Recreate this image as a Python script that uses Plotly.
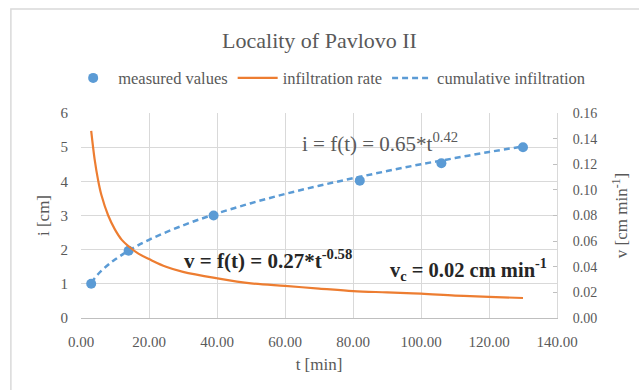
import plotly.graph_objects as go

# measured cumulative infiltration points
t_meas = [3, 14, 39, 82, 106, 130]
i_meas = [1.0, 1.97, 3.0, 4.02, 4.53, 5.0]

# fitted cumulative infiltration curve
t_cum = [3, 5, 8, 10, 14, 20, 30, 40, 50, 60, 70, 80, 90, 100, 110, 120, 130]
i_cum = [1.03, 1.28, 1.56, 1.71, 1.97, 2.29, 2.71, 3.06, 3.36, 3.63, 3.87, 4.09, 4.30, 4.50, 4.68, 4.86, 5.02]

# infiltration rate curve
t_rate = [3, 4, 5, 6, 8, 10, 12, 14, 17, 20, 25, 30, 40, 50, 60, 70, 80, 90, 100, 110, 120, 130]
v_rate = [0.146, 0.124, 0.108, 0.096, 0.080, 0.069, 0.061, 0.056, 0.050, 0.046, 0.040, 0.036,
          0.031, 0.027, 0.025, 0.023, 0.021, 0.020, 0.019, 0.0175, 0.0165, 0.0156]

x_ticks = [0, 20, 40, 60, 80, 100, 120, 140]

FONT = "Liberation Serif"
GRAY = "#595959"
BLUE = "#5b9bd5"
ORANGE = "#ed7d31"

fig = go.Figure()
fig.add_trace(go.Scatter(x=t_meas, y=i_meas, mode="markers", name="measured values",
                         marker=dict(color=BLUE, size=10), yaxis="y"))
fig.add_trace(go.Scatter(x=t_rate, y=v_rate, mode="lines", name="infiltration rate",
                         line=dict(color=ORANGE, width=2.2, shape="spline"), yaxis="y2"))
fig.add_trace(go.Scatter(x=t_cum, y=i_cum, mode="lines", name="cumulative infiltration",
                         line=dict(color=BLUE, width=2.5, dash="6px,4px", shape="spline"), yaxis="y"))

fig.update_layout(
    width=639, height=390,
    margin=dict(l=81, r=76, t=113, b=72),
    paper_bgcolor="white", plot_bgcolor="white",
    font=dict(family=FONT, color=GRAY, size=14),
    title=dict(text="Locality of Pavlovo II", x=0.5, xanchor="center", y=0.897, yanchor="middle",
               font=dict(family=FONT, size=22, color=GRAY)),
    showlegend=True,
    legend=dict(orientation="h", x=(68 - 81) / 482, xanchor="left", y=1.17, yanchor="middle",
                font=dict(family=FONT, size=16.5, color=GRAY), bgcolor="rgba(0,0,0,0)",
                itemwidth=40, tracegroupgap=0),
    xaxis=dict(range=[0, 140], tickvals=x_ticks, tickformat=".2f", showgrid=True,
               gridcolor="#d9d9d9", gridwidth=1, zeroline=False, showline=True,
               linecolor="#bfbfbf", linewidth=1, ticks="", ticklabelstandoff=10,
               tickfont=dict(family=FONT, size=15, color=GRAY),
               title=dict(text="t [min]", font=dict(family=FONT, size=17, color=GRAY), standoff=9)),
    yaxis=dict(range=[0, 6], dtick=1, showgrid=True, gridcolor="#d9d9d9", gridwidth=1,
               zeroline=False, showline=False, ticks="", ticklabelstandoff=12,
               tickfont=dict(family=FONT, size=15, color=GRAY),
               title=dict(text="i [cm]", font=dict(family=FONT, size=17, color=GRAY), standoff=6)),
    yaxis2=dict(range=[0, 0.16], dtick=0.02, tickformat=".2f", overlaying="y", side="right",
                showgrid=False, zeroline=False, showline=True, linecolor="#d9d9d9",
                ticks="inside", ticklen=4, tickcolor="#bfbfbf", ticklabelstandoff=12,
                tickfont=dict(family=FONT, size=14, color=GRAY),
                title=dict(text="v [cm min<sup>-1</sup>]", font=dict(family=FONT, size=17, color=GRAY),
                           standoff=18)),
)

fig.add_annotation(text="i = f(t) = 0.65*t<sup>0.42</sup>", xref="x", yref="y",
                   x=88, y=5.15, showarrow=False, xanchor="center", yanchor="middle",
                   font=dict(family=FONT, size=21, color=GRAY))
fig.add_annotation(text="<b>v = f(t) = 0.27*t<sup>-0.58</sup></b>", xref="x", yref="y",
                   x=80.2, y=1.70, showarrow=False, xanchor="right", yanchor="middle",
                   font=dict(family=FONT, size=21, color="#262626"))
fig.add_annotation(text="<b>v<sub>c</sub> = 0.02 cm min<sup>-1</sup></b>", xref="x", yref="y",
                   x=137.7, y=1.42, showarrow=False, xanchor="right", yanchor="middle",
                   font=dict(family=FONT, size=20.5, color="#262626"))

# outer chart border
fig.add_shape(type="rect", xref="paper", yref="paper",
              x0=(10 - 81) / 482, x1=(650 - 81) / 482,
              y0=(318 - 400) / 205, y1=(318 - 9) / 205,
              line=dict(color="#d9d9d9", width=1.5), fillcolor="rgba(0,0,0,0)", layer="below")

fig.write_html("out.html")
